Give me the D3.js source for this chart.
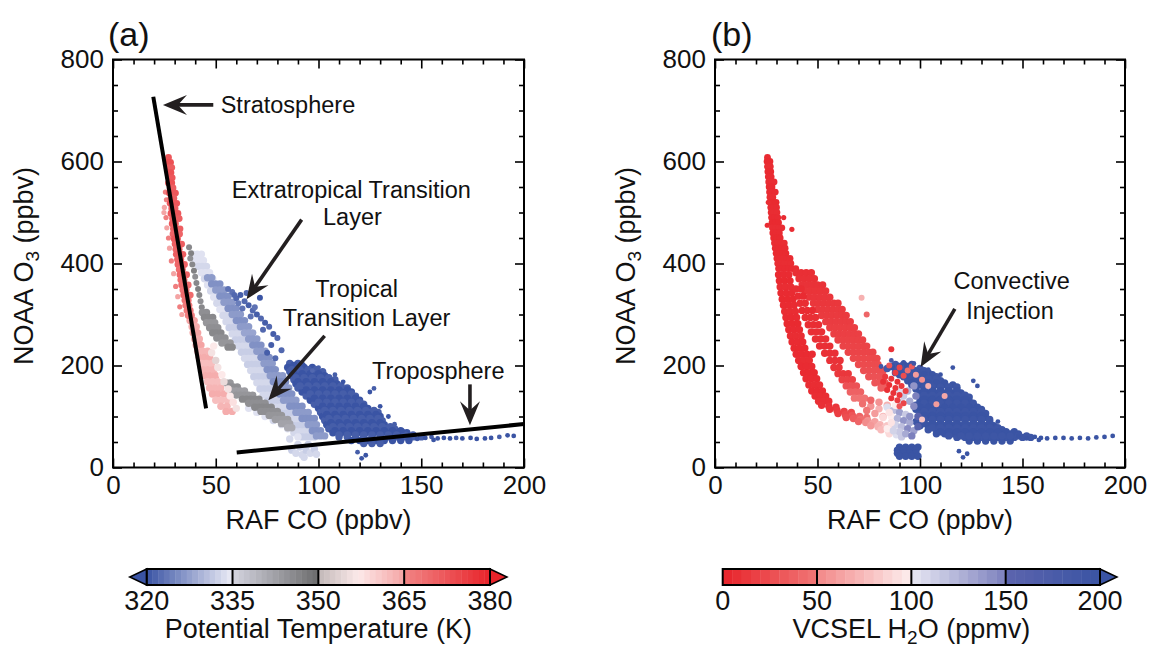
<!DOCTYPE html>
<html><head><meta charset="utf-8">
<script src="https://cdn.jsdelivr.net/npm/d3@7"></script>
<style>body{margin:0;background:#fff}svg{display:block}</style>
</head><body><svg id="c" width="1152" height="656"></svg>
<script>
// ---------------- axis / legend values ----------------
const xTicks = [0, 50, 100, 150, 200];
const xMinorTicks = [10,20,30,40,60,70,80,90,110,120,130,140,160,170,180,190];
const yTicks = [0, 200, 400, 600, 800];
const yMinorTicks = [50,100,150,250,300,350,450,500,550,650,700,750];
const thetaTicks = [320, 335, 350, 365, 380];
const h2oTicks = [0, 50, 100, 150, 200];
const thetaStops = [[320,"#3a54a4"],[335,"#ececf6"],[335,"#d4d4e0"],[350,"#6c6c6c"],[350,"#c2b8b8"],[357,"#fce9e9"],[365,"#f4a4a4"],[365,"#f18585"],[380,"#e8232a"]];
const h2oStops = [[0,"#e8232a"],[50,"#f07676"],[50,"#f28888"],[100,"#fdeeee"],[100,"#e8e8f3"],[150,"#7c80bd"],[150,"#5c64ad"],[200,"#3a54a4"]];

// ---------------- panel (a) data : rows [O3, theta, CO...] ----------------
const aLavenderRows = [
[418,334,39,41,43],[406,334,40,42,44],[394,333,41.5,43.5,45.5],[382,334,43,45,47],[370,333,44.5,46.5,48.5],
[358,334,46,48,50],[346,333,47.5,49.5,51.5],[334,334,49,51,53,55],[322,333,50.5,52.5,54.5,56.5],[310,334,52,54,56,58],
[298,333,53.5,55.5,57.5,59.5],[286,333,55,57,59,61],[274,332,56.5,58.5,60.5,62.5],[262,333,58,60,62,64,66],
[250,332,59.5,61.5,63.5,65.5,67.5],[238,333,61,63,65,67,69],[226,332,62.5,64.5,66.5,68.5,70.5],[214,333,64,66,68,70,72],
[202,332,65.5,67.5,69.5,71.5,73.5],[190,333,67,69,71,73,75],[178,332,68.5,70.5,72.5,74.5,76.5],[166,333,70,72,74,76,78],
[154,332,71.5,73.5,75.5,77.5,79.5],[142,333,73,75,77,79,81],[130,332,75,77,79,81,83],[118,333,77,79,81,83,85,87],
[106,332,80,82,84,86,88,90],[94,333,83,85,87,89,91,93],[82,332,86,88,90,92,94,96],[70,333,89,91,93,95,97],[60,332,92,94,96,98]
];
const aWhiteLav = [[66,116,334],[70,108,334],[74,100,334],[78,92,333],[82,84,334],[85,76,334],[88,68,333],[90,60,334],[86,56,333],
[87,34,332],[89,28,333],[91,40,332],[92,25,333],[94,33,332],[96,28,333],[98,36,332],[99,26,333],[90,45,333],[95,45,332],[93,20,333]];
const aPurpleRows = [
[372,327,46,48],[360,326,48,50,52],[348,327,50,52,54],[336,326,52,54,56],[324,327,54,56,58],[312,326,56,58,60],
[300,327,58,60,62],[288,326,60,62,64],[276,327,62,64,66],[264,328,64,66,68],[252,327,66,68,70],[240,326,68,70,72],
[228,327,70,72,74],[216,326,72,74,76],[204,327,73.5,75.5,77.5],[192,326,75,77,79],[180,327,76.5,78.5,80.5,82.5],
[168,326,78,80,82,84],[156,327,79.5,81.5,83.5,85.5],[144,326,81,83,85,87],[132,327,83,85,87,89],[120,326,86,88,90,92],
[108,327,89,91,93,95],[96,326,92,94,96,98],[84,327,95,97,99],[72,326,97,99,101],[62,327,99,101,103]
];
const aGrayDots = [[37,432,346],[38,420,347],[37.6,410,345],[38.6,398,346],[39.4,386,347],[40,374,345],[40.6,362,346],[41.4,350,347],[42,338,346],[42.6,326,345],[43.2,314,346]];
const aGrayUpperRows = [
[304,345,43.5,45.5],[294,346,44.5,46.5,48.5],[284,344,45.5,47.5,49.5],[274,345,47,49,51],[264,346,48.5,50.5,52.5],
[254,345,50.5,52.5,54.5],[244,344,53,55,57],[236,346,56,58]
];
const aGrayLowerRows = [
[166,344,55,57],[158,345,56.5,58.5,60.5],[150,343,58,60,62,64],[142,344,60,62,64,66,68],[134,346,63,65,67,69,71],
[126,345,66,68,70,72,74],[118,346,69,71,73,75,77],[110,345,72,74,76,78,80],[102,344,76,78,80,82],[94,343,79,81,83,85],
[86,342,82,84,86],[78,341,85,87]
];
const aPinkRows = [
[288,365,37.5,39.5],[276,364,38.5,40.5],[264,365,39,41.2],[252,364,39.8,42],[240,365,40.5,42.8],[228,363,41.2,43.6,46],
[216,364,42,44.4,47],[204,362,43,45.4,48],[192,363,44,46.4,49],[180,364,45,47.4,50],[168,362,46,48.4,51],
[156,363,47,49.6,52.4],[144,364,48.4,51,54],[132,362,50,52.6,55.6],[120,363,52.5,55.5],[110,364,55,58]
];
const aLightPink = [[48,225,356],[50,210,354],[51,196,356],[53,182,357],[54,168,355],[56,154,356],[57,140,357],[58.5,128,358],[49,238,357],[60,116,356]];
const aPinkEdge = [[25.5,540,366],[25,510,365],[25.8,490,366],[26.2,470,365],[27,450,366],[27.5,430,365],[28.4,405,366],[29.5,380,365],[30.5,355,366],[31.5,335,365],[32.5,315,366],[33.5,300,365],[26,525,366],[24.8,500,365]];
const aRedRows = [
[608,372,27],[598,373,26.6,28],[588,371,27.2,28.6],[578,373,26.8,28.2],[568,372,27.4,28.8],[558,373,27,28.6],
[548,371,27.8,29.2],[538,372,27.4,29,30.4],[528,371,28.2,29.6],[518,372,27.8,29.4,31],[508,371,28.6,30.2],
[498,372,28.2,29.8,31.6],[488,371,29,30.6,32.2],[478,372,28.8,30.4],[468,371,29.4,31,32.6],[458,370,29.2,30.8,32.4],
[448,372,29.8,31.4],[438,371,30.2,31.8,33.4],[428,370,30.6,32.2],[418,371,30.8,32.4,34],[408,370,31.4,33],
[398,370,31.6,33.2,34.8],[388,369,32.2,33.8],[378,370,32.6,34.2,35.8],[368,369,33,34.6],[358,369,33.4,35,36.6],
[348,368,34,35.6],[338,369,34.4,36,37.6],[328,368,35,36.6],[318,367,35.4,37],[308,367,36,37.6],[298,366,36.6,38.2]
];
const aBlueBand = [[60,332,322],[62,338,321],[64,326,322],[66,318,321],[63,312,323],[68,308,322],[70,300,321],[72,292,322],
[67,296,323],[74,284,321],[76,276,322],[71.5,333,320],[65,342,322],[58,344,323],[61,322,324],[69,314,323],[73,270,322],
[78,262,321],[80,254,322],[77,240,321],[82,230,322],[75,225,321],[79,214,322],[56,350,323],[59,338,322]];
const aBlueRows = [
[204,321,86,90],[196,320,85,89,93,97],[188,321,86,90,94,98,102],[180,320,87,91,95,99,103],[172,321,88,92,96,100,104,108],
[164,320,89,93,97,101,105,109],[156,321,90,94,98,102,106,110,114],[148,320,92,96,100,104,108,112,116],
[140,321,94,98,102,106,110,114,118],[132,320,96,100,104,108,112,116,120],[124,321,98,102,106,110,114,118,122],
[116,320,100,104,108,112,116,120,124],[108,321,101,105,109,113,117,121,125,129],[100,320,102,106,110,114,118,122,126,130],
[92,321,103,107,111,115,119,123,127,131],[84,320,104,108,112,116,120,124,128,132],[76,321,105,109,113,117,121,125,129,133,137],
[68,320,107,111,115,119,123,127,131,135,139,143],[60,321,110,114,118,122,126,130,134,138,142,146,150],
[53,320,116,120,124,128,132,136,140,144],[47,321,122,126,130],
[200,320,88,92],[192,321,87,91,95,99],[184,320,88,92,96,100],[176,321,89,93,97,101,105],[168,320,90,94,98,102,106],
[160,321,91,95,99,103,107,111],[152,320,94,98,102,106,110,114],[144,321,96,100,104,108,112,116],[136,320,98,102,106,110,114,118],
[128,321,100,104,108,112,116,120],[120,320,102,106,110,114,118,122],[112,321,103,107,111,115,119,123,127],
[104,320,104,108,112,116,120,124,128],[96,321,105,109,113,117,121,125,129],[88,320,106,110,114,118,122,126,130],
[80,321,107,111,115,119,123,127,131,135],[72,320,108,112,116,120,124,128,132,136,140],[64,321,110,114,118,122,126,130,134,138,142,146]
];
const aBlueScatter = [[148,56,320],[152,58,320],[155,60,321],[158,57,320],[161,58,320],[164,57,320],[167,58,321],[170,57,320],
[174,58,320],[177,56,320],[181,57,320],[184,58,320],[188,60,321],[192,63,320],[195,62,320],[156,54,320],[146,62,321],
[121,18,320],[123,24,320],[119,30,321],[125,148,320],[127,155,321],[130,120,320],[134,100,320],[137,85,321],[112,168,320],
[108,182,321],[100,196,321],[97,190,322],[141,72,320]];

// ---------------- panel (b) data : rows [O3, H2O, CO...] ----------------
const bStemRows = [
[608,5,25.6],[600,4,25.4,26.8],[590,6,25.6,27],[580,4,25.8,27.2],[570,5,26,27.4],[560,6,26.2,27.6,28.8],[550,4,26.4,27.8],
[540,5,26.6,28,29.4],[530,6,26.8,28.2],[520,4,27,28.4,29.8],[510,5,27.2,28.6,30],[500,6,27.4,28.8,30.2],[490,5,27.6,29,30.6],
[480,4,27.8,29.4,31],[470,6,28,29.6,31.2,32.6],[460,5,28.2,29.8,31.4],[450,4,28.6,30.2,31.8],[440,6,29,30.6,32.2,33.8],
[430,5,29.4,31,32.6,34.2],[420,4,29.8,31.4,33,34.6],[410,5,30.2,31.8,33.4,35,36.6],[400,6,30.6,32.2,33.8,35.4,37],
[390,5,31,32.6,34.2,35.8,37.6,39.4]
];
const bStemExtra = [[26,520,6],[25.5,475,5],[37.5,467,6],[33.5,490,5]];
const bUpperRows = [
[382,7,39.5,42,44.5,47],[370,8,41,43.5,46,48.5],[358,9,42.5,45,47.5,50,52.5],[346,10,44,46.5,49,51.5,54],
[334,11,46,48.5,51,53.5,56],[322,12,48,50.5,53,55.5,58,60],[310,13,50,52.5,55,57.5,60,62],[298,14,52,54.5,57,59.5,62,64],
[286,15,54,56.5,59,61.5,64,66],[274,16,56,58.5,61,63.5,66,68],[262,17,58,60.5,63,65.5,68,70],[250,18,60,62.5,65,67.5,70,72],
[238,19,62.5,65,67.5,70,72.5,74],[226,20,65,67.5,70,72.5,75,77],[214,22,67.5,70,72.5,75,77,79],[202,24,70,72.5,75,77.5,79.5],
[190,26,72.5,75,77.5,80,82],[178,28,75,77.5,80,82.5],[166,30,78,80.5,83],[156,35,81,83.5]
];
const bLeftRows = [
[378,5,31,33.5,36],[366,4,31.4,34,36.6],[354,6,31.8,34.4,37],[342,5,32.2,34.8,37.4],[330,4,32.8,35.4,38],[318,5,33.4,36,38.6],
[306,6,34,36.6,39.2],[294,5,34.6,37.2,39.8],[282,4,35.2,37.8,40.4],[270,5,36,38.6,41.2],[258,6,36.8,39.4,42],
[246,5,37.6,40.2,42.8],[234,4,38.6,41.2,43.8],[222,5,39.6,42.2,44.8,47.4],[210,6,40.8,43.4,46],[198,5,42,44.6,47.2],
[186,4,43.2,45.8,48.4],[174,5,44.4,47,49.6],[162,6,45.8,48.4,51],[150,5,47.2,49.8,52.4],[140,6,48.8,51.4,54],[130,7,50.5,53,55.5]
];
const bInnerRows = [
[350,6,39.5,42],[336,5,40.5,43],[322,6,41.5,44],[308,5,42.5,45,47.5],[294,7,44,46.5,49],[280,6,45.5,48,50.5],
[266,7,47,49.5,52],[252,8,49,51.5,54],[238,7,51,53.5,56],[224,8,53.5,56,58.5],[210,9,56,58.5,61],[196,10,58,60.5],
[184,12,60,62.5,65],[172,18,62,64.5,67],[160,28,64,66.5,69],[148,38,66,68.5,71],[136,48,68,70.5,73]
];
const bLower = [[52,122,8],[55.5,120,9],[59,118,12],[56,114,10],[59.5,112,14],[63,110,18],[66.5,108,22],
[60,106,16],[63.5,104,22],[67,102,30],[70.5,100,38],[74,98,45],[64,98,25],[67.5,96,35],[71,94,45],[74.5,92,55],[78,90,62],
[70,90,40],[73.5,88,52],[77,86,62],[80.5,84,72],[84,82,80],[76,82,58],[79.5,80,70],[83,78,82],[86.5,76,92],
[81,74,75],[84.5,72,88],[88,70,100],[85,66,90],[88.5,64,105],[91,60,115],
[72,125,45],[76,120,55],[80,115,70],[74,112,50],[78,106,60],[82,100,75],[76,132,40],[80,128,55],[84,122,70]];
const bBlueRows = [
[202,190,88,92,96],[194,185,84,88,92,96,100],[186,195,88,92,96,100,104],[178,190,92,96,100,104,108],
[170,195,94,98,102,106,110],[162,200,96,100,104,108,112,116],[154,195,98,102,106,110,114,118],
[146,200,100,104,108,112,116,120],[138,195,100,104,108,112,116,120,124],[130,200,100,104,108,112,116,120,124],
[122,195,98,102,106,110,114,118,122,126],[114,200,98,102,106,110,114,118,122,126,130],
[106,195,100,104,108,112,116,120,124,128,132],[98,200,100,104,108,112,116,120,124,128,132],
[90,195,98,102,106,110,114,118,122,126,130,134],[82,200,100,104,108,112,116,120,124,128,132,136],
[74,195,104,108,112,116,120,124,128,132,136,140],[66,200,108,112,116,120,124,128,132,136,140,144,148],
[59,195,118,122,126,130,134,138,142,146,150,154],[52,200,124,128,132,136,140,144],
[198,200,86,90,94],[190,195,90,94,98,102],[182,200,90,94,98,102,106],[174,195,96,100,104,108],[166,200,96,100,104,108,112],
[158,195,98,102,106,110,114,118],[150,200,102,106,110,114,118],[142,195,102,106,110,114,118,122],[134,200,102,106,110,114,118,122],
[126,195,102,106,110,114,118,122,126],[118,200,100,104,108,112,116,120,124,128],[110,195,102,106,110,114,118,122,126,130],
[102,200,102,106,110,114,118,122,126,130],[94,195,102,106,110,114,118,122,126,130,134],[86,200,102,106,110,114,118,122,126,130,134],
[78,195,106,110,114,118,122,126,130,134,138],[70,200,110,114,118,122,126,130,134,138,142,146],[62,195,114,120,124,128,132,136,140,144,148,152],
[40,200,90,93,96,99],[34,200,89,92,95,98],[28,200,89,92,95,98],[22,200,90,93,96,99]
];
const bMix = [[84,118,105],[87,112,120],[90,108,135],[93,104,115],[86,100,100],[89,96,125],[92,92,140],[95,88,130],[88,84,110],
[91,80,120],[94,76,145],[97,72,135],[90,70,115],[93,66,130],[96,62,150],[95,100,140],[92,140,115],[95,130,130],[97,120,145],
[85,108,95],[82,98,90],[88,122,100],[91,128,110],[94,150,125],[97,160,140],[90,150,105],[86,88,95],[84,76,100],[87,72,110],
[99,80,160],[99,100,155],[98,140,150]];
const bRedBlob = [[82,168,8],[85,162,6],[88,156,10],[84,152,7],[87,146,9],[90,142,12],[86,136,10],[89,132,15],[92,126,20],
[83,178,12],[86,174,10],[89,168,8],[91,160,14],[93,150,18],[90,120,30],[88,186,15],[92,180,25],
[90,196,20],[94,190,45],[98,182,60],[101,172,55],[85,200,30],[104,160,70],[108,124,60],[101,94,80],[112,140,65],[96,198,35],
[71.5,333,70],[86,232,10],[74,300,40]];
const bBlueScatter = [[121,20,200],[123,27,200],[119,32,200],[126,170,195],[110,182,200],[104,192,195],[97,204,190],[92,206,200],
[86,210,185],[81,198,190],[128,160,200],[138,90,200],[116,196,195],
[152,57,200],[156,60,200],[159,58,200],[162,57,200],[166,58,200],[170,58,200],[174,57,200],[178,58,200],[182,57,200],
[186,59,200],[190,60,200],[194,62,200],[158,54,200],[148,62,200]];

// ---------------- annotations (data coords) ----------------
const aLines = [[[19.6,727],[45.3,116]], [[60.2,29.6],[200,85.2]]];
const aArrows = [[[48.8,711],[24.3,711]], [[91.8,486],[65,330]], [[103,258],[75.6,132]], [[173.7,163],[173.7,83]]];
const aLabels = [["Stratosphere",52.4,711,"start"],["Extratropical Transition",116,545,"middle"],["Layer",116.5,491,"middle"],
["Tropical",118.6,350,"middle"],["Transition Layer",123.4,294,"middle"],["Troposphere",158.3,190,"middle"]];
const bArrows = [[[117,311],[100.3,197]]];
const bLabels = [["Convective",144.7,366,"middle"],["Injection",143.9,307,"middle"]];

// ---------------- helpers ----------------
const FONT = "'Liberation Sans', Arial, Helvetica, sans-serif";
function rows(r) { return r.flatMap(row => row.slice(2).map(co => [co, row[0], row[1]])); }
function stopColor(stops, v) {
  for (let i = 0; i < stops.length - 1; i++) {
    const a = stops[i], b = stops[i+1];
    if (a[0] === b[0]) continue;
    if (v >= a[0] && v <= b[0]) return d3.interpolateRgb(a[1], b[1])((v - a[0]) / (b[0] - a[0]));
  }
  return v < stops[0][0] ? stops[0][1] : stops[stops.length-1][1];
}
const colA = v => stopColor(thetaStops, v);
const colB = v => stopColor(h2oStops, v);

const svg = d3.select("#c").style("font-family", FONT);
const yScale = d3.scaleLinear([0, 800], [467.5, 59.5]);
const xA = d3.scaleLinear([0, 200], [113, 524]);
const xB = d3.scaleLinear([0, 200], [715, 1125]);

function drawAxes(x, y) {
  const g = svg.append("g");
  const style = sel => { sel.select(".domain").remove(); sel.selectAll("line").attr("stroke", "#000").attr("stroke-width", 1.6);
    sel.selectAll("text").attr("font-size", 26).attr("font-family", FONT).attr("fill", "#111"); };
  const y0 = y(0), y1 = y(800), x0 = x(0), x1 = x(200);
  g.append("g").attr("transform", `translate(0,${y0})`).call(d3.axisBottom(x).tickValues(xTicks).tickSize(-9).tickPadding(8).tickFormat(d3.format("d"))).call(style);
  g.append("g").attr("transform", `translate(0,${y0})`).call(d3.axisBottom(x).tickValues(xMinorTicks).tickSize(-5).tickFormat("")).call(style);
  g.append("g").attr("transform", `translate(0,${y1})`).call(d3.axisTop(x).tickValues(xTicks).tickSize(-9).tickFormat("")).call(style);
  g.append("g").attr("transform", `translate(0,${y1})`).call(d3.axisTop(x).tickValues(xMinorTicks).tickSize(-5).tickFormat("")).call(style);
  g.append("g").attr("transform", `translate(${x0},0)`).call(d3.axisLeft(y).tickValues(yTicks).tickSize(-9).tickPadding(9).tickFormat(d3.format("d"))).call(style);
  g.append("g").attr("transform", `translate(${x0},0)`).call(d3.axisLeft(y).tickValues(yMinorTicks).tickSize(-5).tickFormat("")).call(style);
  g.append("g").attr("transform", `translate(${x1},0)`).call(d3.axisRight(y).tickValues(yTicks).tickSize(-9).tickFormat("")).call(style);
  g.append("g").attr("transform", `translate(${x1},0)`).call(d3.axisRight(y).tickValues(yMinorTicks).tickSize(-5).tickFormat("")).call(style);
  g.append("rect").attr("x", x0).attr("y", y1).attr("width", x1 - x0).attr("height", y0 - y1)
    .attr("fill", "none").attr("stroke", "#000").attr("stroke-width", 2);
}

function dots(x, y, pts, color, r) {
  svg.append("g").selectAll("circle").data(pts).join("circle")
    .attr("cx", d => x(d[0])).attr("cy", d => y(d[1])).attr("r", r).attr("fill", d => color(d[2]));
}

function arrow(x, y, a) {
  const [p, q] = a;
  const x1 = x(p[0]), y1 = y(p[1]), x2 = x(q[0]), y2 = y(q[1]);
  const ang = Math.atan2(y2 - y1, x2 - x1);
  const L = 24, W = 10, N = 15;
  const pt = (d, w) => [x2 - d * Math.cos(ang) - w * Math.sin(ang), y2 - d * Math.sin(ang) + w * Math.cos(ang)];
  const n = pt(N, 0);
  svg.append("line").attr("x1", x1).attr("y1", y1).attr("x2", n[0]).attr("y2", n[1]).attr("stroke", "#231f20").attr("stroke-width", 3.6);
  svg.append("path").attr("d", "M" + [[x2, y2], pt(L, W), n, pt(L, -W)].map(d => d.join(",")).join("L") + "Z").attr("fill", "#231f20");
}

function label(x, y, l) {
  svg.append("text").attr("x", x(l[1])).attr("y", y(l[2])).attr("dy", "0.35em").attr("text-anchor", l[3])
    .attr("font-size", 23.5).attr("fill", "#111").text(l[0]);
}

// ---------------- panel (a) ----------------
const R = 3.7;
dots(xA, yScale, rows(aLavenderRows), colA, R);
dots(xA, yScale, aWhiteLav, colA, R);
dots(xA, yScale, rows(aPurpleRows), colA, R);
dots(xA, yScale, aGrayDots, colA, 3);
dots(xA, yScale, rows(aGrayUpperRows), colA, R);
dots(xA, yScale, rows(aGrayLowerRows), colA, R);
dots(xA, yScale, rows(aPinkRows), colA, R);
dots(xA, yScale, aLightPink, colA, R);
dots(xA, yScale, aPinkEdge, colA, 2.6);
dots(xA, yScale, rows(aRedRows), colA, 3.4);
dots(xA, yScale, aBlueBand, colA, 3);
dots(xA, yScale, rows(aBlueRows), colA, R);
dots(xA, yScale, aBlueScatter, colA, 2.4);
aLines.forEach(l => svg.append("line").attr("x1", xA(l[0][0])).attr("y1", yScale(l[0][1])).attr("x2", xA(l[1][0])).attr("y2", yScale(l[1][1]))
  .attr("stroke", "#000").attr("stroke-width", 4));
aArrows.forEach(a => arrow(xA, yScale, a));
aLabels.forEach(l => label(xA, yScale, l));
drawAxes(xA, yScale);

// ---------------- panel (b) ----------------
dots(xB, yScale, rows(bStemRows), colB, 3.4);
dots(xB, yScale, bStemExtra, colB, 2.6);
dots(xB, yScale, rows(bUpperRows), colB, R);
dots(xB, yScale, rows(bLeftRows), colB, R);
dots(xB, yScale, rows(bInnerRows), colB, R);
dots(xB, yScale, bLower, colB, R);
dots(xB, yScale, rows(bBlueRows), colB, R);
dots(xB, yScale, bMix, colB, R);
dots(xB, yScale, bRedBlob, colB, 3);
dots(xB, yScale, bBlueScatter, colB, 2.4);
bArrows.forEach(a => arrow(xB, yScale, a));
bLabels.forEach(l => label(xB, yScale, l));
drawAxes(xB, yScale);

// ---------------- titles ----------------
function ytitle(cx) {
  const t = svg.append("text").attr("transform", `translate(${cx},266) rotate(-90)`).attr("text-anchor", "middle")
    .attr("font-size", 27).attr("fill", "#111");
  t.append("tspan").text("NOAA O");
  t.append("tspan").attr("font-size", 19).attr("dy", 6).text("3");
  t.append("tspan").attr("dy", -6).text(" (ppbv)");
}
ytitle(33); ytitle(635);
svg.append("text").attr("x", 318.5).attr("y", 529).attr("text-anchor", "middle").attr("font-size", 27).attr("fill", "#111").text("RAF CO (ppbv)");
svg.append("text").attr("x", 920).attr("y", 529).attr("text-anchor", "middle").attr("font-size", 27).attr("fill", "#111").text("RAF CO (ppbv)");
svg.append("text").attr("x", 108).attr("y", 46).attr("font-size", 34).attr("fill", "#111").text("(a)");
svg.append("text").attr("x", 711).attr("y", 46).attr("font-size", 34).attr("fill", "#111").text("(b)");

// ---------------- colorbars ----------------
function colorbar(lo, hi, step, ticks, color, x0, x1, leftTri, rightTri, title, sub) {
  const s = d3.scaleLinear([lo, hi], [x0, x1]);
  const top = 569, h = 16, g = svg.append("g");
  d3.range(lo, hi, step).forEach(v => g.append("rect").attr("x", s(v)).attr("y", top).attr("width", s(v + step) - s(v) + 0.4)
    .attr("height", h).attr("fill", color(v + step / 2)));
  if (leftTri) g.append("path").attr("d", `M${x0},${top}L${x0 - 17},${top + h / 2}L${x0},${top + h}Z`).attr("fill", color(lo)).attr("stroke", "#000").attr("stroke-width", 1.5);
  if (rightTri) g.append("path").attr("d", `M${x1},${top}L${x1 + 17},${top + h / 2}L${x1},${top + h}Z`).attr("fill", color(hi)).attr("stroke", "#000").attr("stroke-width", 1.5);
  g.append("rect").attr("x", x0).attr("y", top).attr("width", x1 - x0).attr("height", h).attr("fill", "none").attr("stroke", "#000").attr("stroke-width", 2);
  ticks.slice(1, -1).forEach(v => g.append("line").attr("x1", s(v)).attr("x2", s(v)).attr("y1", top).attr("y2", top + h).attr("stroke", "#000").attr("stroke-width", 2));
  ticks.forEach(v => g.append("text").attr("x", s(v)).attr("y", 610).attr("text-anchor", "middle").attr("font-size", 27).attr("fill", "#111").text(v));
  const t = g.append("text").attr("x", (x0 + x1) / 2).attr("y", 638).attr("text-anchor", "middle").attr("font-size", 27).attr("fill", "#111");
  if (sub) {
    t.append("tspan").text(title[0]);
    t.append("tspan").attr("font-size", 19).attr("dy", 6).text(title[1]);
    t.append("tspan").attr("dy", -6).text(title[2]);
  } else t.text(title);
}
colorbar(320, 380, 1, thetaTicks, colA, 146.7, 490, true, true, "Potential Temperature (K)", false);
colorbar(0, 200, 5, h2oTicks, colB, 722.7, 1100, false, true, ["VCSEL H", "2", "O (ppmv)"], true);
</script></body></html>
